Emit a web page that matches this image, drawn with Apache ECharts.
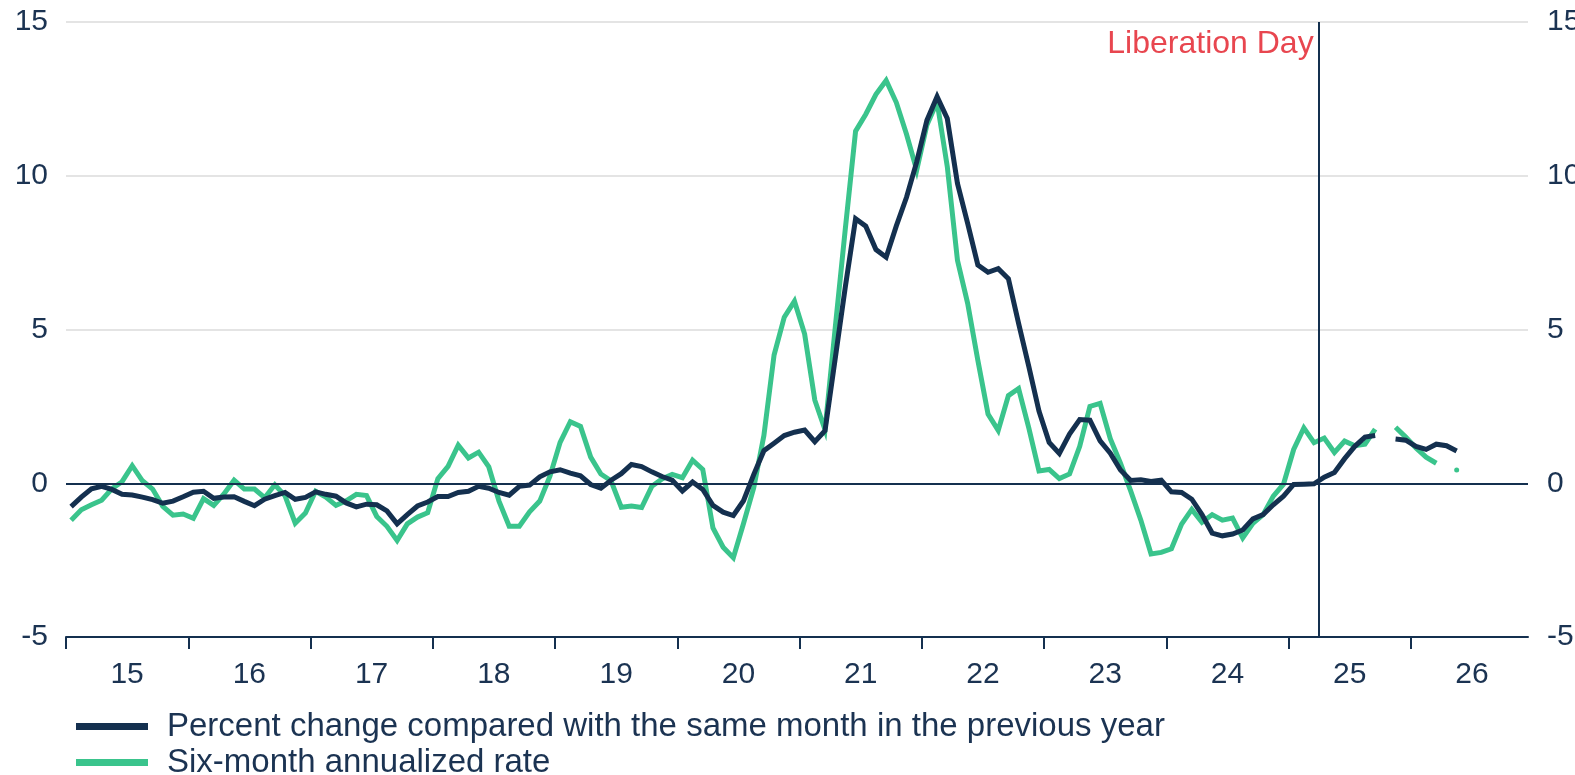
<!DOCTYPE html>
<html>
<head>
<meta charset="utf-8">
<script src="https://cdn.jsdelivr.net/npm/echarts@6/dist/echarts.min.js"></script>
<style>
  html, body { margin: 0; padding: 0; background: #ffffff; }
  #chart { width: 1575px; height: 775px; }
</style>
</head>
<body>
<div id="chart"></div>
<script>
// Monthly series, January 2015 onward (one value per month, '-' = not published)
const startYear = 2015;
const yearLabels = ['15', '16', '17', '18', '19', '20', '21', '22', '23', '24', '25', '26'];

const yoyChange = [
  // 2015
  -0.76, -0.45, -0.18, -0.10, -0.20, -0.36, -0.38, -0.45, -0.53, -0.65, -0.58, -0.44,
  // 2016
  -0.29, -0.26, -0.49, -0.45, -0.44, -0.59, -0.73, -0.52, -0.40, -0.30, -0.52, -0.46,
  // 2017
  -0.28, -0.36, -0.42, -0.64, -0.77, -0.68, -0.70, -0.90, -1.32, -1.02, -0.74, -0.61,
  // 2018
  -0.43, -0.43, -0.30, -0.26, -0.10, -0.16, -0.30, -0.39, -0.10, -0.06, 0.21, 0.37,
  // 2019
  0.44, 0.33, 0.24, -0.04, -0.16, 0.10, 0.31, 0.61, 0.54, 0.37, 0.22, 0.10,
  // 2020
  -0.25, 0.04, -0.20, -0.72, -0.94, -1.05, -0.57, 0.28, 1.06, 1.30, 1.55, 1.66,
  // 2021
  1.73, 1.35, 1.71, 4.05, 6.40, 8.60, 8.36, 7.60, 7.35, 8.37, 9.30, 10.45,
  // 2022
  11.80, 12.57, 11.86, 9.75, 8.45, 7.10, 6.86, 6.98, 6.65, 5.20, 3.80, 2.35,
  // 2023
  1.33, 0.97, 1.60, 2.07, 2.05, 1.38, 0.98, 0.43, 0.09, 0.11, 0.06, 0.10,
  // 2024
  -0.28, -0.30, -0.52, -1.02, -1.62, -1.71, -1.65, -1.52, -1.16, -1.02, -0.70, -0.42,
  // 2025
  -0.04, -0.03, -0.02, 0.20, 0.35, 0.80, 1.20, 1.50, 1.55, '-', 1.44, 1.40,
  // 2026
  1.20, 1.10, 1.27, 1.22, 1.05
];

const sixMonthRate = [
  // 2015
  -1.20, -0.86, -0.70, -0.55, -0.18, 0.05, 0.57, 0.08, -0.19, -0.75, -1.04, -1.00,
  // 2016
  -1.14, -0.50, -0.72, -0.35, 0.10, -0.19, -0.19, -0.47, -0.05, -0.41, -1.30, -0.97,
  // 2017
  -0.26, -0.45, -0.72, -0.57, -0.36, -0.40, -1.08, -1.40, -1.86, -1.32, -1.10, -0.96,
  // 2018
  0.15, 0.55, 1.24, 0.82, 1.01, 0.53, -0.58, -1.40, -1.40, -0.93, -0.58, 0.23,
  // 2019
  1.33, 2.00, 1.85, 0.85, 0.30, 0.08, -0.78, -0.74, -0.79, -0.10, 0.14, 0.29,
  // 2020
  0.18, 0.75, 0.45, -1.45, -2.08, -2.42, -1.31, -0.15, 1.55, 4.17, 5.40, 5.92,
  // 2021
  4.85, 2.70, 1.74, 5.05, 8.30, 11.45, 12.00, 12.65, 13.10, 12.38, 11.35, 10.18,
  // 2022
  11.65, 12.40, 10.30, 7.25, 5.85, 4.00, 2.25, 1.72, 2.85, 3.08, 1.80, 0.40,
  // 2023
  0.45, 0.15, 0.30, 1.20, 2.50, 2.60, 1.45, 0.65, -0.25, -1.20, -2.30, -2.25,
  // 2024
  -2.13, -1.33, -0.85, -1.27, -1.02, -1.20, -1.13, -1.78, -1.30, -1.02, -0.42, -0.03,
  // 2025
  1.10, 1.80, 1.32, 1.47, 1.00, 1.37, 1.22, 1.27, 1.76, '-', 1.82, 1.50,
  // 2026
  1.15, 0.85, 0.65, '-', 0.43
];

const seriesNames = [
  'Percent change compared with the same month in the previous year',
  'Six-month annualized rate'
];
const eventDate = 2025.25;        // 1 April 2025
const eventLabel = 'Liberation Day';

const NAVY = '#14304f';
const GREEN = '#3ac48c';
const TEXT = '#1b3352';
const FONT = '"Liberation Sans", Arial, Helvetica, sans-serif';

// Place each monthly value at the middle of its month on a fractional-year axis
function toPoints(values) {
  return values.map(function (v, i) {
    const x = startYear + (i + 0.5) / 12;
    const prevMissing = i === 0 || values[i - 1] === '-';
    const nextMissing = i === values.length - 1 || values[i + 1] === '-';
    if (v !== '-' && prevMissing && nextMissing && i > 0) {
      // a lone value between gaps is drawn as a dot
      return { value: [x, v], symbol: 'circle', symbolSize: 5 };
    }
    return [x, v];
  });
}

// axis runs to the middle of the last month of the final labelled year
const xMax = startYear + (yearLabels.length * 12 - 0.5) / 12;
// year boundaries carry the ticks; each label sits over its year
const yearStarts = yearLabels.map(function (_, i) { return startYear + i; });

// one legend block per series, stacked as two rows
function legendRow(name, top) {
  return {
    orient: 'horizontal',
    left: 76,
    top: top,
    padding: 0,
    itemWidth: 72,
    itemHeight: 7,
    icon: 'rect',
    selectedMode: false,
    textStyle: { fontSize: 33, color: TEXT, fontFamily: FONT, padding: [0, 0, 0, 14], lineHeight: 30 },
    data: [name]
  };
}

const chart = echarts.init(document.getElementById('chart'), null, { renderer: 'canvas' });

chart.setOption({
  animation: false,
  backgroundColor: '#ffffff',
  textStyle: { fontFamily: FONT },
  grid: { left: 66, right: 47, top: 22, bottom: 138, outerBoundsMode: 'none', containLabel: false },
  legend: [legendRow(seriesNames[0], 710), legendRow(seriesNames[1], 746)],
  xAxis: {
    type: 'value',
    min: startYear,
    max: xMax,
    interval: 1,
    axisLine: { show: true, onZero: false, lineStyle: { color: NAVY, width: 2 } },
    axisTick: { show: true, length: 12, customValues: yearStarts, lineStyle: { color: NAVY, width: 2 } },
    splitLine: { show: false },
    axisLabel: {
      margin: 23,
      align: 'left',
      customValues: yearStarts,
      formatter: function (v) {
        const idx = Math.round(v) - startYear;
        return idx >= 0 && idx < yearLabels.length ? '{y|' + yearLabels[idx] + '}' : '';
      },
      rich: {
        y: { width: 122.2, align: 'center', fontSize: 30, color: TEXT, fontFamily: FONT }
      }
    }
  },
  yAxis: [
    {
      type: 'value', min: -5, max: 15, interval: 5, position: 'left',
      axisLine: { show: false }, axisTick: { show: false },
      splitLine: { show: true, lineStyle: { color: '#e4e4e4', width: 2 } },
      axisLabel: { margin: 18, fontSize: 30, color: TEXT, fontFamily: FONT }
    },
    {
      type: 'value', min: -5, max: 15, interval: 5, position: 'right',
      axisLine: { show: false }, axisTick: { show: false },
      splitLine: { show: false },
      axisLabel: { margin: 19, fontSize: 30, color: TEXT, fontFamily: FONT }
    }
  ],
  series: [
    {
      name: seriesNames[0],
      type: 'line',
      data: toPoints(yoyChange),
      showSymbol: true,
      symbol: 'none',
      connectNulls: false,
      color: NAVY,
      lineStyle: { color: NAVY, width: 5, join: 'miter' },
      itemStyle: { color: NAVY },
      z: 3,
      markLine: {
        silent: true,
        symbol: 'none',
        label: { show: false },
        data: [
          { yAxis: 0, lineStyle: { color: NAVY, width: 2, type: 'solid' } },
          { xAxis: eventDate, lineStyle: { color: NAVY, width: 2, type: 'solid' } }
        ]
      },
      markPoint: {
        silent: true,
        symbol: 'circle',
        symbolSize: 1,
        itemStyle: { color: 'rgba(0,0,0,0)' },
        label: {
          show: true,
          position: 'left',
          distance: 5,
          offset: [0, 22],
          color: '#e8464f',
          fontSize: 32,
          fontFamily: FONT,
          formatter: eventLabel
        },
        data: [{ coord: [eventDate, 15] }]
      }
    },
    {
      name: seriesNames[1],
      type: 'line',
      data: toPoints(sixMonthRate),
      showSymbol: true,
      symbol: 'none',
      connectNulls: false,
      color: GREEN,
      lineStyle: { color: GREEN, width: 5, join: 'miter' },
      itemStyle: { color: GREEN },
      z: 2
    }
  ]
});
</script>
</body>
</html>
